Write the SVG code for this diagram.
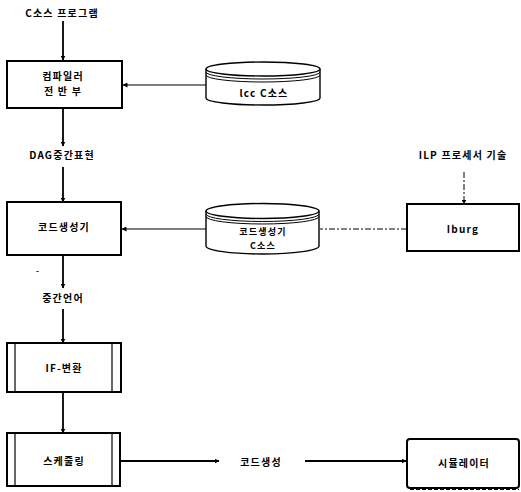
<svg xmlns="http://www.w3.org/2000/svg" width="521" height="492" viewBox="0 0 521 492">
<style>
text{font-family:"Noto Sans CJK KR","Liberation Sans",sans-serif;font-weight:bold;font-size:10px;letter-spacing:1.2px;fill:#000;text-anchor:middle}
.box{fill:#fff;stroke:#000;stroke-width:2}
.bar{fill:none;stroke:#000;stroke-width:1.2}
.ln{fill:none;stroke:#000;stroke-width:1.8}
.thin{fill:none;stroke:#000;stroke-width:1}
.dash{fill:none;stroke:#000;stroke-width:1;stroke-dasharray:6 2 2 2}
.cyl{fill:#fff;stroke:#000;stroke-width:1.4}
.sm{font-size:9px}
</style>
<defs>
<marker id="ah" viewBox="0 0 10 10" refX="9" refY="5" markerWidth="5" markerHeight="5" orient="auto" markerUnits="userSpaceOnUse">
<path d="M0,0 L10,5 L0,10 z" fill="#000"/>
</marker>
</defs>
<g id="labels">
<text x="62" y="17">C소스 프로그램</text>
<text x="62" y="159">DAG중간표현</text>
<text x="463" y="159">ILP 프로세서 기술</text>
<text x="63" y="302">중간언어</text>
<text x="38" y="274" style="font-size:8px">-</text>
<text x="261" y="466">코드생성</text>
</g>
<g id="connectors">
<line class="ln" x1="63" y1="21" x2="63" y2="60" marker-end="url(#ah)"/>
<line class="thin" x1="207" y1="85" x2="123" y2="85" marker-end="url(#ah)"/>
<line class="ln" x1="63" y1="108" x2="63" y2="146" marker-end="url(#ah)"/>
<line class="ln" x1="63" y1="167" x2="63" y2="202" marker-end="url(#ah)"/>
<line class="thin" x1="207" y1="229" x2="122" y2="229" marker-end="url(#ah)"/>
<line class="dash" x1="407" y1="229" x2="320" y2="229"/>
<line class="dash" x1="464" y1="172" x2="464" y2="204" marker-end="url(#ah)"/>
<line class="ln" x1="63" y1="255" x2="63" y2="288" marker-end="url(#ah)"/>
<line class="ln" x1="63" y1="309" x2="63" y2="343" marker-end="url(#ah)"/>
<line class="ln" x1="63" y1="392" x2="63" y2="433" marker-end="url(#ah)"/>
<line class="ln" x1="120" y1="461" x2="219" y2="461" marker-end="url(#ah)"/>
<line class="ln" x1="305" y1="461" x2="406" y2="461" marker-end="url(#ah)"/>
</g>
<g id="front">
<rect class="box" x="7" y="61" width="115" height="47"/>
<text x="63" y="80">컴파일러</text>
<text x="63" y="95">전 반 부</text>
</g>
<g id="lcc">
<path class="cyl" d="M206,69 L206,98 A57,7 0 0 0 320,98 L320,69"/>
<ellipse class="cyl" cx="263" cy="69" rx="57" ry="7"/>
<path class="thin" d="M206,72 A57,7 0 0 0 320,72 M206,75 A57,7 0 0 0 320,75"/>
<text x="264" y="97">lcc C소스</text>
</g>
<g id="codegen">
<rect class="box" x="7" y="202" width="114" height="53"/>
<text x="64" y="231">코드생성기</text>
</g>
<g id="cgsrc">
<path class="cyl" d="M206,211 L206,246 A56.5,8 0 0 0 319,246 L319,211"/>
<ellipse class="cyl" cx="262.5" cy="211" rx="56.5" ry="7.5"/>
<path class="thin" d="M206,214 A56.5,7.5 0 0 0 319,214 M206,216.5 A56.5,7.5 0 0 0 319,216.5"/>
<text class="sm" x="263" y="235">코드생성기</text>
<text class="sm" x="263" y="249">C소스</text>
</g>
<g id="iburg">
<rect class="box" x="407" y="204" width="112" height="47"/>
<text x="463" y="233">Iburg</text>
</g>
<g id="ifconv">
<rect class="box" x="7" y="343" width="114" height="49"/>
<line class="bar" x1="15" y1="343" x2="15" y2="392"/>
<line class="bar" x1="112" y1="343" x2="112" y2="392"/>
<text x="64" y="372">IF-변환</text>
</g>
<g id="sched">
<rect class="box" x="7" y="433" width="113" height="53"/>
<line class="bar" x1="15" y1="433" x2="15" y2="486"/>
<line class="bar" x1="112" y1="433" x2="112" y2="486"/>
<text x="64" y="465">스케줄링</text>
</g>
<g id="sim">
<rect class="box" x="407" y="439" width="112" height="49" rx="3"/>
<line class="thin" x1="410" y1="489.5" x2="519" y2="489.5" stroke-dasharray="4 2"/>
<text x="464" y="467">시뮬레이터</text>
</g>
</svg>
